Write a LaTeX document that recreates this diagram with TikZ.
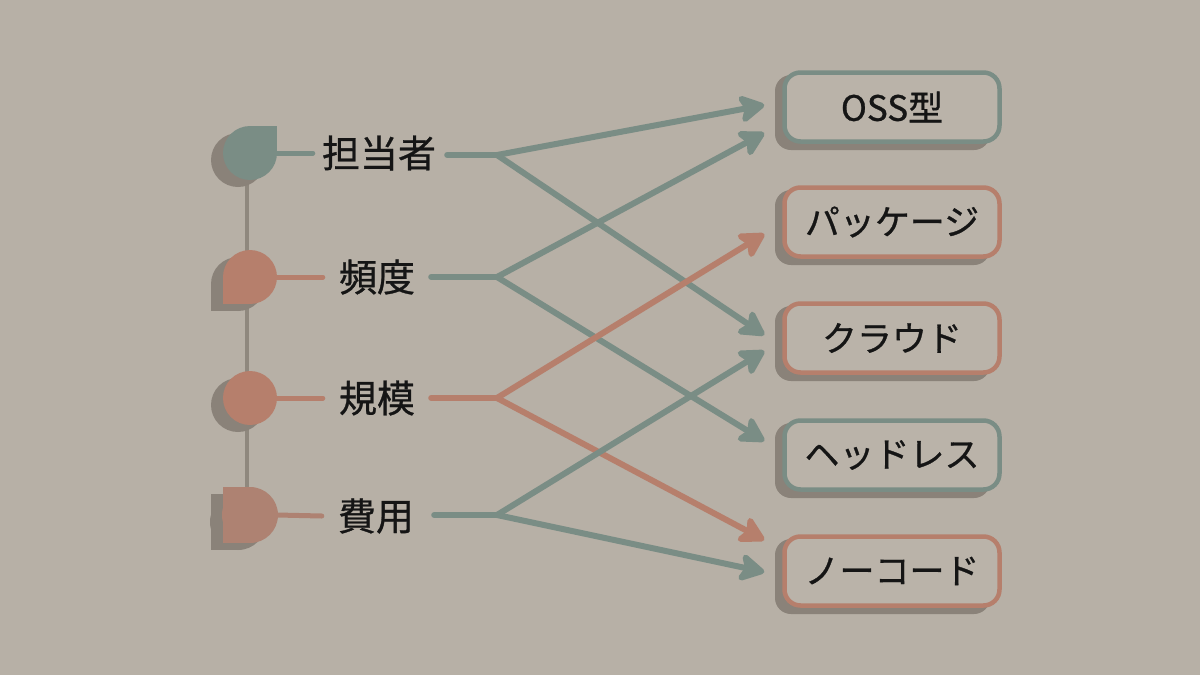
\documentclass[tikz,border=0pt]{standalone}
\usepackage{fontspec}
\setmainfont{Noto Sans CJK JP}[FakeBold=0.8]
\usetikzlibrary{arrows.meta,calc}
\definecolor{bg}{HTML}{B7B0A6}
\definecolor{boxfill}{HTML}{BAB3A9}
\definecolor{tealc}{HTML}{7A8D85}
\definecolor{terra}{HTML}{B67F6C}
\definecolor{terram}{HTML}{AE8272}
\definecolor{dropc}{HTML}{8A8279}
\definecolor{spine}{HTML}{8F887E}
\definecolor{ink}{HTML}{151515}
\tikzset{
  lbl/.style={inner sep=0pt, text=ink, font=\fontsize{38}{40}\selectfont},
  boxt/.style={draw=#1, line width=4.5pt, fill=boxfill, rounded corners=16pt,
    minimum width=215pt, minimum height=69pt, inner sep=0pt, text=ink,
    font=\fontsize{35}{38}\selectfont},
  boxshadow/.style={fill=dropc, rounded corners=16pt},
  drop/.style={fill=dropc},
  conn/.style={draw=#1, line width=6pt, line cap=round},
  arr/.style={conn=#1, -{Stealth[length=30pt,width=33pt,inset=7pt,round]}},
  stub/.style={draw=#1, line width=5pt, line cap=round},
}
\begin{document}
\begin{tikzpicture}[x=1pt,y=-1pt]
\fill[bg] (0,0) rectangle (1200,675);
\useasboundingbox (0,0) rectangle (1200,675);

% marker centres
\coordinate (m1) at (250,153);
\coordinate (m2) at (250,277);
\coordinate (m3) at (250,398);
\coordinate (m4) at (250,515);
% shadow centres
\coordinate (h1) at (238,160);
\coordinate (h2) at (238,284);
\coordinate (h3) at (238,405);
\coordinate (h4) at (238,522);

% spine
\draw[spine, line width=4pt] ($(m1)+(-3,0)$) -- ($(m4)+(-3,0)$);

% marker shadows
\path[drop] (h1) circle (27);
\path[drop] ($(h1)+(0,-27)$) rectangle ($(h1)+(27,0)$);
\path[drop] (h2) circle (27);
\path[drop] ($(h2)+(-27,0)$) rectangle ($(h2)+(0,27)$);
\path[drop] (h3) circle (27);
\path[drop] (h4) circle (28);
\path[drop] ($(h4)+(-27,-28)$) rectangle ($(h4)+(0,28)$);
% markers
\fill[tealc] (m1) circle (27);
\fill[tealc] ($(m1)+(0,-27)$) rectangle ($(m1)+(27,0)$);
\fill[terra] (m2) circle (27);
\fill[terra] ($(m2)+(-27,0)$) rectangle ($(m2)+(0,27)$);
\fill[terra] (m3) circle (27);
\fill[terram] (m4) circle (28);
\fill[terram] ($(m4)+(-27,-28)$) rectangle ($(m4)+(0,28)$);

% labels
\node[lbl] (l1) at (379,153) {担当者};
\node[lbl] (l2) at (377,277) {頻度};
\node[lbl] (l3) at (377,398) {規模};
\node[lbl] (l4) at (376,516) {費用};

% stubs
\draw[stub=tealc] ($(m1)+(27,0)$) -- ($(l1.west)+(-9,0)$);
\draw[stub=terra] ($(m2)+(27,0)$) -- ($(l2.west)+(-16,0)$);
\draw[stub=terra] ($(m3)+(27,0)$) -- ($(l3.west)+(-16,0)$);
\draw[stub=terram] ($(m4)+(27,0)$) -- ($(l4.west)+(-16,0)$);

% boxes
\foreach \n/\y/\c/\t in {b1/107/tealc/OSS型, b2/222/terra/パッケージ, b3/338/terra/クラウド, b4/455/tealc/ヘッドレス, b5/571/terra/ノーコード}{
  \path[boxshadow] (775,\y-32) rectangle (990,\y+43);
  \node[boxt=\c] (\n) at (892,\y) {\t};
}

% branch points and tips
\coordinate (s1) at ($(l1.east)+(11,2)$);
\coordinate (s2) at ($(l2.east)+(16,0)$);
\coordinate (s3) at ($(l3.east)+(16,0)$);
\coordinate (s4) at ($(l4.east)+(20,-1)$);
\coordinate (k1) at (497,155);
\coordinate (k2) at (497,277);
\coordinate (k3) at (497,398);
\coordinate (k4) at (497,515);
\coordinate (t1a) at ($(b1.west)+(-18,-2)$);
\coordinate (t1b) at ($(b1.west)+(-18,26)$);
\coordinate (t2) at ($(b2.west)+(-18,12)$);
\coordinate (t3a) at ($(b3.west)+(-18,-3)$);
\coordinate (t3b) at ($(b3.west)+(-18,13)$);
\coordinate (t4) at ($(b4.west)+(-18,-14)$);
\coordinate (t5a) at ($(b5.west)+(-18,-31)$);
\coordinate (t5b) at ($(b5.west)+(-18,1)$);

% connectors
\draw[conn=tealc] (s1) -- (k1);
\draw[arr=tealc] (k1) -- (t1a);
\draw[arr=tealc] (k1) -- (t3a);
\draw[conn=tealc] (s2) -- (k2);
\draw[arr=tealc] (k2) -- (t1b);
\draw[arr=tealc] (k2) -- (t4);
\draw[conn=terra] (s3) -- (k3);
\draw[arr=terra] (k3) -- (t2);
\draw[arr=terra] (k3) -- (t5a);
\draw[conn=tealc] (s4) -- (k4);
\draw[arr=tealc] (k4) -- (t3b);
\draw[arr=tealc] (k4) -- (t5b);
\end{tikzpicture}
\end{document}
